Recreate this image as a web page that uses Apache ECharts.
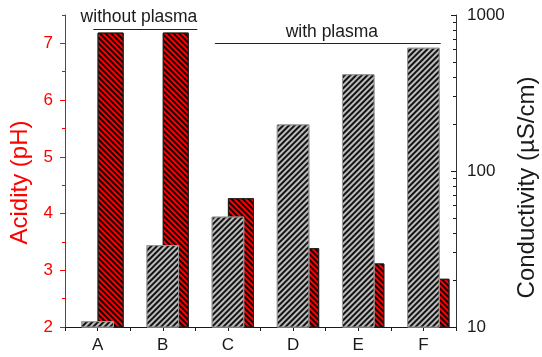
<!DOCTYPE html>
<html>
<head>
<meta charset="utf-8">
<script src="https://cdn.jsdelivr.net/npm/echarts@6/dist/echarts.min.js"></script>
<style>
  html, body { margin: 0; padding: 0; background: #fff; }
  #chart { width: 542px; height: 357px; }
</style>
</head>
<body>
<div id="chart"></div>
<script>
// Samples and measured values
const categories = ['A', 'B', 'C', 'D', 'E', 'F'];
const acidityPH = [7.19, 7.19, 4.27, 3.39, 3.12, 2.85];
const conductivity = [10.9, 33.5, 51, 199, 417, 617];

// Tick values for the two value axes
const phTicks = [2, 3, 4, 5, 6, 7];
const phMinorTicks = [2.5, 3.5, 4.5, 5.5, 6.5, 7.5];
const condTicks = [10, 100, 1000];
const condMinorTicks = [20, 30, 40, 50, 60, 70, 80, 90, 200, 300, 400, 500, 600, 700, 800, 900];

// Group captions above the bars
const groupCaptions = ['without plasma', 'with plasma'];

const FONT = '"Liberation Sans", Arial, sans-serif';
const RED = '#ff0000';
const INK = '#1a1a1a';

const chart = echarts.init(document.getElementById('chart'), null, { renderer: 'canvas' });

const hatch = (rot) => ({
  symbol: 'rect',
  symbolSize: 1,
  dashArrayX: [1, 0],
  dashArrayY: [1.5, 1.5],
  rotation: rot,
  color: 'rgba(0,0,0,0.9)'
});

chart.setOption({
  animation: false,
  backgroundColor: '#fff',
  textStyle: { fontFamily: FONT },
  grid: { left: 65, right: 86, top: 15, bottom: 30, containLabel: false, outerBoundsMode: 'none' },
  xAxis: [
    {
      type: 'category',
      data: categories,
      position: 'bottom',
      axisLine: { lineStyle: { color: INK, width: 1 } },
      axisTick: { show: true, length: 4, inside: false, lineStyle: { color: INK } },
      axisLabel: { color: INK, fontSize: 17, margin: 10, fontFamily: FONT },
      splitLine: { show: false }
    },
    {
      type: 'category',
      data: categories,
      position: 'bottom',
      axisLine: { show: false },
      axisTick: { show: true, alignWithLabel: true, length: 4, lineStyle: { color: INK } },
      axisLabel: { show: false },
      splitLine: { show: false }
    }
  ],
  yAxis: [
    {
      type: 'value',
      position: 'left',
      min: 2,
      max: 7.5,
      interval: 1,
      name: 'Acidity (pH)',
      nameLocation: 'middle',
      nameRotate: 90,
      nameGap: 30,
      nameTextStyle: { color: RED, fontSize: 24, fontFamily: FONT, padding: [0, 23, 0, 0] },
      axisLine: { show: true, lineStyle: { color: RED, width: 1 } },
      axisTick: { show: true, length: 5, inside: false, customValues: phTicks, lineStyle: { color: RED } },
      axisLabel: { color: RED, fontSize: 17, margin: 12, customValues: phTicks, fontFamily: FONT },
      splitLine: { show: false }
    },
    {
      type: 'value',
      position: 'left',
      min: 2,
      max: 7.5,
      interval: 1,
      axisLine: { show: false },
      axisTick: { show: true, length: 3, inside: false, customValues: phMinorTicks, lineStyle: { color: RED } },
      axisLabel: { show: false },
      splitLine: { show: false }
    },
    {
      type: 'log',
      logBase: 10,
      position: 'right',
      min: 10,
      max: 1000,
      name: 'Conductivity (\u00b5S/cm)',
      nameLocation: 'middle',
      nameRotate: 90,
      nameGap: 58,
      nameTextStyle: { color: INK, fontSize: 24, fontFamily: FONT, padding: [0, 33, 0, 0] },
      axisLine: { show: true, lineStyle: { color: '#333', width: 1 } },
      axisTick: { show: true, length: 5, inside: true, customValues: condTicks, lineStyle: { color: INK } },
      axisLabel: {
        color: INK, fontSize: 17, margin: 11, customValues: condTicks, fontFamily: FONT,
        formatter: (v) => String(Math.round(v))
      },
      splitLine: { show: false }
    },
    {
      type: 'log',
      logBase: 10,
      position: 'right',
      min: 10,
      max: 1000,
      axisLine: { show: false },
      axisTick: { show: true, length: 3, inside: true, customValues: condMinorTicks, lineStyle: { color: INK } },
      axisLabel: { show: false },
      splitLine: { show: false }
    }
  ],
  series: [
    {
      name: 'Conductivity',
      type: 'bar',
      xAxisIndex: 0,
      yAxisIndex: 2,
      barWidth: '50%',
      z: 3,
      data: conductivity,
      itemStyle: {
        color: '#bdbdbd',
        borderColor: '#9a9a9a',
        borderWidth: 1,
        decal: hatch(-Math.PI / 4)
      }
    },
    {
      // empty slot so the pH bars start at the category centre
      name: 'spacer',
      type: 'bar',
      xAxisIndex: 1,
      yAxisIndex: 0,
      barWidth: '40%',
      barGap: '0%',
      data: []
    },
    {
      name: 'Acidity',
      type: 'bar',
      xAxisIndex: 1,
      yAxisIndex: 0,
      barWidth: '40%',
      barGap: '0%',
      z: 2,
      data: acidityPH,
      itemStyle: {
        color: '#ff0000',
        borderColor: '#222',
        borderWidth: 1,
        decal: hatch(Math.PI / 4)
      }
    }
  ]
});

// Group captions: positions derived from the axes
function px(cat) { return chart.convertToPixel({ xAxisIndex: 0 }, cat); }
function py(ph) { return chart.convertToPixel({ yAxisIndex: 0 }, ph); }
const band = px(categories[1]) - px(categories[0]);

const groups = [
  { text: groupCaptions[0], from: [0, -0.066], to: [1, 0.53], textAt: [0, 0.635], level: 7.25, lift: 12.6 },
  { text: groupCaptions[1], from: [2, -0.2], to: [5, 0.265], textAt: [3, 0.595], level: 7.01, lift: 11 }
];

const graphics = [];
groups.forEach(g => {
  const y = Math.round(py(g.level)) + 0.5;
  const x1 = px(categories[g.from[0]]) + g.from[1] * band;
  const x2 = px(categories[g.to[0]]) + g.to[1] * band;
  const tx = px(categories[g.textAt[0]]) + g.textAt[1] * band;
  graphics.push({
    type: 'line',
    shape: { x1: x1, y1: y, x2: x2, y2: y },
    style: { stroke: '#222', lineWidth: 1 },
    z: 10
  });
  graphics.push({
    type: 'text',
    x: tx,
    y: y - g.lift,
    style: { text: g.text, font: '17.5px ' + FONT, fill: INK, align: 'center', verticalAlign: 'middle' },
    z: 10
  });
});
chart.setOption({ graphic: graphics });
</script>
</body>
</html>
